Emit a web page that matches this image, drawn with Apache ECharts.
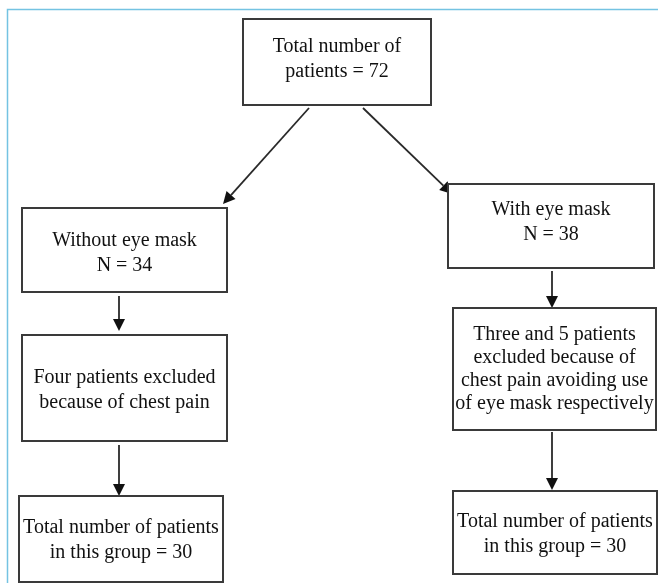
<!DOCTYPE html>
<html>
<head>
<meta charset="utf-8">
<script src="https://cdn.jsdelivr.net/npm/echarts@6/dist/echarts.min.js"></script>
<style>
html,body{margin:0;padding:0;background:#fff;}
#chart{width:658px;height:583px;}
</style>
</head>
<body>
<div id="chart"></div>
<script>
// ---- content ----
const nodeNames = ["total", "without", "excludedA", "groupA", "with", "excludedB", "groupB"];
const nodeTexts = [
  "Total number of\npatients = 72",
  "Without eye mask\nN = 34",
  "Four patients excluded\nbecause of chest pain",
  "Total number of patients\nin this group = 30",
  "With eye mask\nN = 38",
  "Three and 5 patients\nexcluded because of\nchest pain avoiding use\nof eye mask respectively",
  "Total number of patients\nin this group = 30"
];
const edgeFrom = ["total", "total", "without", "excludedA", "with", "excludedB"];
const edgeTo   = ["without", "with", "excludedA", "groupA", "excludedB", "groupB"];

// ---- layout (chart units = pixels) ----
const boxLayout = {
  total:     [243, 19, 431, 105, 59],
  without:   [22, 208, 227, 292, 253],
  excludedA: [22, 335, 227, 441, 390],
  groupA:    [19, 496, 223, 582, 540],
  with:      [448, 184, 654, 268, 222],
  excludedB: [453, 308, 656, 430, 369],
  groupB:    [453, 491, 657, 574, 534]
};
const edgeLayout = [
  [309, 108, 223, 204],
  [363, 108, 452, 194],
  [119, 296, 119, 331],
  [119, 445, 119, 496],
  [552, 271, 552, 308],
  [552, 432, 552, 490]
];

const boxData = nodeNames.map((n, i) => {
  const b = boxLayout[n];
  return { name: n, value: [b[0], b[1], b[2], b[3], b[4], i] };
});
const edgeData = edgeFrom.map((f, i) => ({ name: f + "->" + edgeTo[i], value: edgeLayout[i] }));

const chart = echarts.init(document.getElementById('chart'), null, { renderer: 'canvas' });
chart.setOption({
  animation: false,
  backgroundColor: '#ffffff',
  grid: { left: 0, right: 0, top: 0, bottom: 0 },
  xAxis: { type: 'value', min: 0, max: 658, show: false },
  yAxis: { type: 'value', min: 0, max: 583, inverse: true, show: false },
  graphic: [{
    type: 'polyline',
    shape: { points: [[7.5, 600], [7.5, 9.5], [680, 9.5]] },
    style: { stroke: '#74c3e2', lineWidth: 1.5, fill: null },
    silent: true
  }],
  series: [
    {
      type: 'custom',
      coordinateSystem: 'cartesian2d',
      data: edgeData,
      renderItem: function (params, api) {
        const p0 = api.coord([api.value(0), api.value(1)]);
        const p1 = api.coord([api.value(2), api.value(3)]);
        const dx = p1[0] - p0[0], dy = p1[1] - p0[1];
        const len = Math.sqrt(dx * dx + dy * dy);
        const ux = dx / len, uy = dy / len;
        const hl = 12, hw = 6;
        const bx = p1[0] - ux * hl, by = p1[1] - uy * hl;
        return {
          type: 'group',
          children: [
            { type: 'line', shape: { x1: p0[0], y1: p0[1], x2: bx, y2: by },
              style: { stroke: '#2a2a2a', lineWidth: 1.8 } },
            { type: 'polygon', shape: { points: [[p1[0], p1[1]], [bx - uy * hw, by + ux * hw], [bx + uy * hw, by - ux * hw]] },
              style: { fill: '#111' } }
          ]
        };
      }
    },
    {
      type: 'custom',
      coordinateSystem: 'cartesian2d',
      data: boxData,
      renderItem: function (params, api) {
        const a = api.coord([api.value(0), api.value(1)]);
        const b = api.coord([api.value(2), api.value(3)]);
        const cy = api.coord([0, api.value(4)])[1];
        const idx = api.value(5);
        const lh = idx === 5 ? 23 : 24.5;
        return {
          type: 'group',
          children: [
            { type: 'rect', shape: { x: a[0], y: a[1], width: b[0] - a[0], height: b[1] - a[1] },
              style: { fill: '#fff', stroke: '#3a3a3a', lineWidth: 2 } },
            { type: 'text', x: (a[0] + b[0]) / 2, y: cy,
              style: { text: nodeTexts[idx], fill: '#111', font: '20px "Liberation Serif", serif',
                       align: 'center', verticalAlign: 'middle', lineHeight: lh } }
          ]
        };
      }
    }
  ]
});
</script>
</body>
</html>
